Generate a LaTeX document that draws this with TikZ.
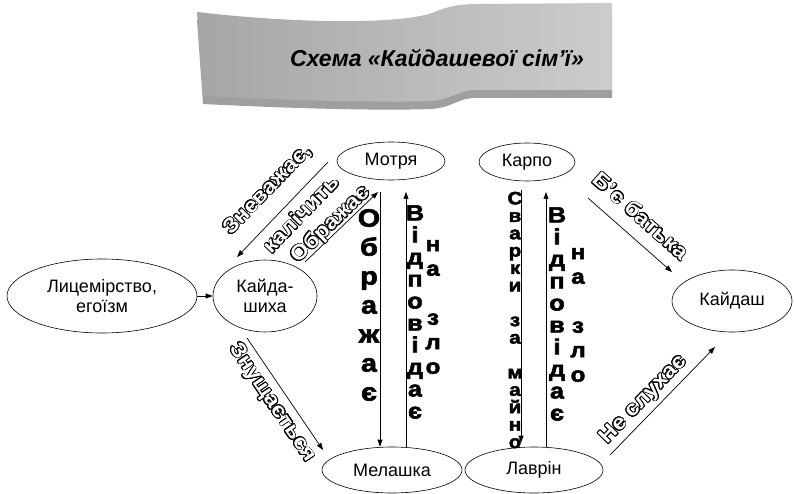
\documentclass[tikz,border=0pt]{standalone}
\usepackage{fontspec}
\setmainfont{Liberation Sans}
\newfontfamily\heavy{Liberation Sans Bold}[FakeBold=2.5,FakeStretch=1.15]
\newfontfamily\outfont{Liberation Sans Bold}[FakeStretch=1.1]
\usepackage[copies]{contour}
\contourlength{0.7pt}
\contournumber{24}
\usetikzlibrary{arrows.meta,shapes.geometric}
\tikzset{
  ell/.style={draw, ellipse, line width=0.6pt, inner sep=0pt, align=center, text=black,
    font=\fontsize{18}{20}\selectfont},
  arr/.style={-{Triangle[length=7pt,width=5pt]}, line width=0.7pt},
  outl/.style={inner sep=0pt, text=white, font=\outfont\fontsize{21}{23}\selectfont\contourlength{0.7pt}},
  bigstack/.style={inner sep=0pt, align=center, text=black, font=\heavy\fontsize{25}{29}\selectfont},
  midstack/.style={inner sep=0pt, align=center, text=black, font=\heavy\fontsize{22}{22}\selectfont},
  smallstack/.style={inner sep=0pt, align=center, text=black, font=\heavy\fontsize{18}{17.4}\selectfont},
  nastack/.style={inner sep=0pt, align=center, text=black, font=\heavy\fontsize{21}{24.5}\selectfont},
}
\newcommand\outline[1]{\contour{black}{#1}}
\begin{document}
\begin{tikzpicture}[x=1pt,y=-1pt]
\useasboundingbox (0,0) rectangle (794,494);
% banner shadow
\begin{scope}[yshift=-8pt]
\fill[gray!75] (197,12) .. controls (300,24) and (400,24) .. (432,13)
  .. controls (448,6) and (460,4) .. (480,4) -- (612,3) -- (612,90) -- (475,90)
  .. controls (458,90) and (452,100) .. (430,101)
  .. controls (380,103) and (280,100) .. (203,96) -- cycle;
\end{scope}
% banner
\shade[left color=gray!70, middle color=gray!20, right color=gray!40]
  (197,12) .. controls (300,24) and (400,24) .. (432,13)
  .. controls (448,6) and (460,4) .. (480,4) -- (612,3) -- (612,90) -- (475,90)
  .. controls (458,90) and (452,100) .. (430,101)
  .. controls (380,103) and (280,100) .. (203,96) -- cycle;
\node[text=black, font=\bfseries\itshape\fontsize{23}{25}\selectfont] (title) at (437,58) {Схема «Кайдашевої сім’ї»};

% ellipses
\node[ell, minimum width=190, minimum height=74] (lic) at (102,296) {Лицемірство,\\егоїзм};
\node[ell, minimum width=104, minimum height=72] (kh) at (265,296) {Кайда-\\шиха};
\node[ell, minimum width=108, minimum height=38] (motrya) at (391,161) {Мотря};
\node[ell, minimum width=96, minimum height=38] (karpo) at (527,162) {Карпо};
\node[ell, minimum width=120, minimum height=62] (kaidash) at (732,301) {Кайдаш};
\node[ell, minimum width=140, minimum height=46] (melashka) at (392,470) {Мелашка};
\node[ell, minimum width=138, minimum height=46] (lavrin) at (534,470) {Лаврін};

% vertical stacks
\node[bigstack] (sobr) at (369,305) {О\\б\\р\\а\\ж\\а\\є};
\node[midstack] (svid1) at (415,312) {В\\і\\д\\п\\о\\в\\і\\д\\а\\є};
\node[nastack] (sna1) at (433,307) {н\\а\\\mbox{}\\з\\л\\о};
\node[smallstack] (svar) at (515,320) {С\\в\\а\\р\\к\\и\\\mbox{}\\з\\а\\\mbox{}\\м\\а\\й\\н\\о};
\node[midstack] (svid2) at (557,314) {В\\і\\д\\п\\о\\в\\і\\д\\а\\є};
\node[nastack] (sna2) at (578,315) {н\\а\\\mbox{}\\з\\л\\о};

% coordinates
\coordinate (z1) at (328,162);
\coordinate (z2) at (237,257);
\coordinate (o1) at (305,262);
\coordinate (o2) at (378,192);
\coordinate (m1) at (380,192);
\coordinate (m2) at (406,192);
\coordinate (k1) at (521,190);
\coordinate (k2) at (546,192);
\coordinate (b1) at (588,198);
\coordinate (b2) at (672,272);
\coordinate (n1) at (610,455);
\coordinate (n2) at (715,347);
\coordinate (s1) at (247,338);
\coordinate (s2) at (323,450);

% connectors
\draw[arr] (lic) -- (kh);
\draw[arr] (z1) -- (z2);
\draw[arr] (o1) -- (o2);
\draw[arr] (m1) -- (m1 |- melashka.north);
\draw[arr] (m2 |- melashka.north) -- (m2);
\draw[arr] (k1) -- ([yshift=4pt]k1 |- lavrin.north);
\draw[arr] (k2 |- lavrin.north) -- (k2);
\draw[arr] (b1) -- (b2);
\draw[arr] (n1) -- (n2);
\draw[arr] (s1) -- (s2);

% outlined labels
\node[outl, rotate=46] (lz1) at (268,190) {\outline{Зневажає,}};
\node[outl, rotate=46] (lz2) at (301,214) {\outline{калічить}};
\node[outl, rotate=44] (lo) at (331,225) {\outline{Ображає}};
\node[outl, rotate=-41.5] (lb) at (641,216) {\outline{Б’є батька}};
\node[outl, rotate=46] (ln) at (644,400) {\outline{Не слухає}};
\node[outl, rotate=-56] (ls) at (272,403) {\outline{Знущається}};
\end{tikzpicture}
\end{document}
